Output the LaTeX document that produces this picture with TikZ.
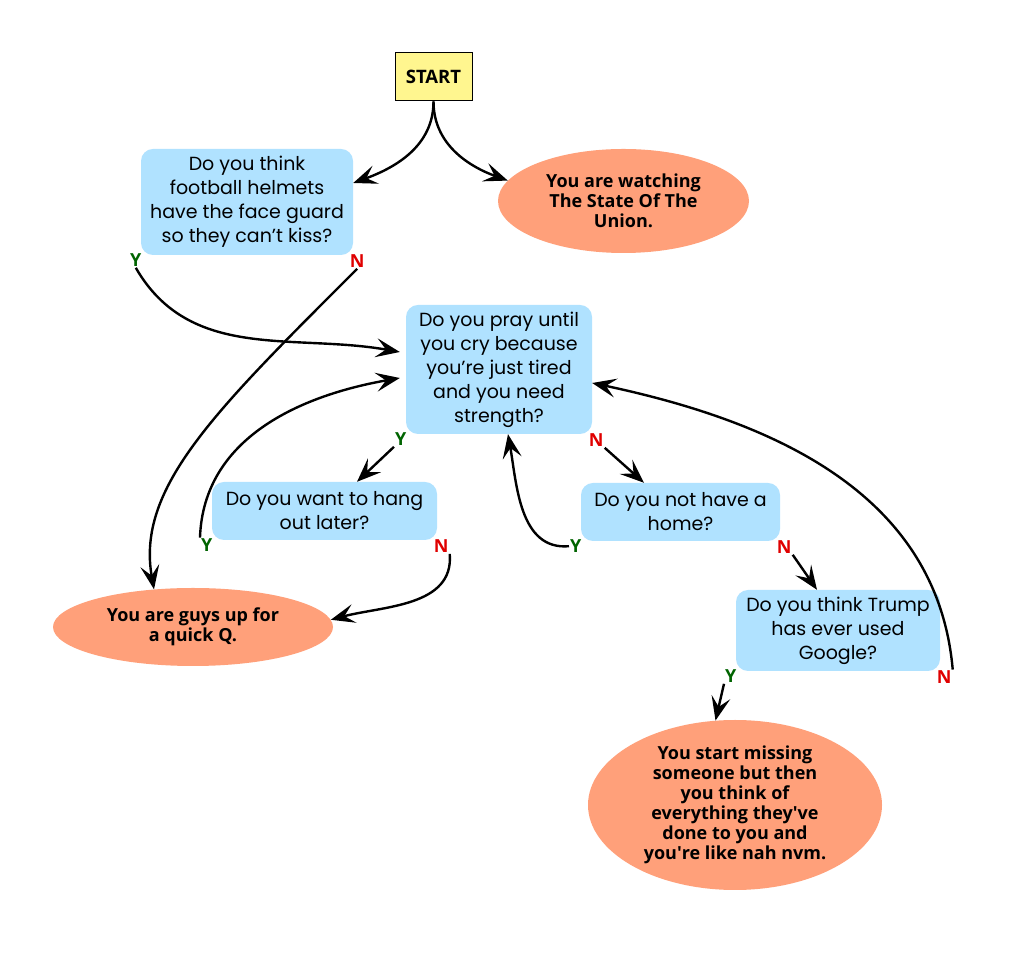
\documentclass[tikz,border=0pt]{standalone}
\usepackage{fontspec}
\setmainfont{Open Sans}
\newfontfamily\askfont{Poppins}
\usepackage{xcolor}
\usetikzlibrary{shapes.geometric,arrows.meta}
\definecolor{Khaki}{HTML}{FFF68F}
\definecolor{PaleSky}{HTML}{B0E2FF}
\definecolor{Salmon}{HTML}{FFA07A}
\definecolor{YesGreen}{HTML}{006400}
\definecolor{NoRed}{HTML}{E00000}
\newcommand{\qt}{\textquotesingle}

\begin{document}
\begin{tikzpicture}[x=1pt,y=1pt,
    question/.style={fill=PaleSky,rounded corners=12pt,align=center,inner sep=0pt,
      font=\askfont\fontsize{19}{24}\selectfont},
    answer/.style={ellipse,fill=Salmon,align=center,inner sep=0pt,
      font=\bfseries\fontsize{18}{20}\selectfont},
    ylab/.style={text=YesGreen,inner sep=1pt,font=\bfseries\fontsize{18}{18}\selectfont,xshift=-5pt,yshift=-5pt},
    nlab/.style={text=NoRed,inner sep=1pt,font=\bfseries\fontsize{18}{18}\selectfont,xshift=4pt,yshift=-6pt},
    arr/.style={-{Stealth[length=24pt,width=19pt,inset=10pt]},line width=2.4pt}]
     \fill[white] (0,0) rectangle (1009,958);

     \node[draw,line width=1pt,fill=Khaki,minimum width=77pt,minimum height=48pt,
       font=\bfseries\fontsize{18.5}{18.5}\selectfont] (start) at (433.5,881) {START};

     \node[question,minimum width=212pt,minimum height=106pt] (q1) at (247,756)
       {Do you think\\football helmets\\have the face guard\\so they can’t kiss?};
     \node[answer,minimum width=251pt,minimum height=104pt] (a1) at (623.5,757)
       {You are watching\\The State Of The\\Union.};
     \node[question,minimum width=186pt,minimum height=129pt] (q2) at (499,588.5)
       {Do you pray until\\you cry because\\you’re just tired\\and you need\\strength?};
     \node[question,minimum width=225pt,minimum height=58pt] (q3) at (324.5,447)
       {Do you want to hang\\out later?};
     \node[question,minimum width=199pt,minimum height=58pt] (q4) at (680.5,446)
       {Do you not have a\\home?};
     \node[question,minimum width=204pt,minimum height=81pt] (q5) at (838,327.5)
       {Do you think Trump\\has ever used\\Google?};
     \node[answer,minimum width=280pt,minimum height=78pt] (a2) at (193,331)
       {You are guys up for\\a quick Q.};
     \node[answer,minimum width=294pt,minimum height=170pt] (a3) at (735,153)
       {You start missing\\someone but then\\you think of\\everything they\qt ve\\done to you and\\you\qt re like nah nvm.};

     \node[ylab] (q1y) at (q1.south west) {Y};
     \node[nlab] (q1n) at (q1.south east) {N};
     \node[ylab] (q2y) at (q2.south west) {Y};
     \node[nlab] (q2n) at (q2.south east) {N};
     \node[ylab] (q3y) at (q3.south west) {Y};
     \node[nlab] (q3n) at (q3.south east) {N};
     \node[ylab] (q4y) at (q4.south west) {Y};
     \node[nlab] (q4n) at (q4.south east) {N};
     \node[ylab] (q5y) at (q5.south west) {Y};
     \node[nlab] (q5n) at (q5.south east) {N};

     \draw[arr] (start.south) to[out=-90,in=20] ([yshift=19pt]q1.east);
     \draw[arr] (start.south) to[out=-90,in=160] (a1.170);
     \draw[arr] (q1y.south) to[out=-60,in=170] ([yshift=17.5pt,xshift=-6pt]q2.west);
     \draw[arr] (q1n.south) to[out=-135,in=100,out looseness=1.35,in looseness=0.7] (a2.136);
     \draw[arr] (q3y.north west) to[out=88,in=190] ([yshift=-8.5pt,xshift=-6pt]q2.west);
     \draw[arr] (q2y.south west) -- ([xshift=32.5pt]q3.north);
     \draw[arr] (q2n.south east) -- ([xshift=-36.5pt]q4.north);
     \draw[arr] (q4y.west) to[out=185,in=-80] ([xshift=9pt]q2.south);
     \draw[arr] (q3n.south east) to[out=-85,in=15] (a2.3);
     \draw[arr] (q4n.south east) -- ([xshift=-21pt]q5.north);
     \draw[arr] (q5n.north east) to[out=95,in=-12] ([yshift=-13.5pt]q2.east);
     \draw[arr] (q5y.south west) -- (a3.103);
    \end{tikzpicture}
\end{document}
